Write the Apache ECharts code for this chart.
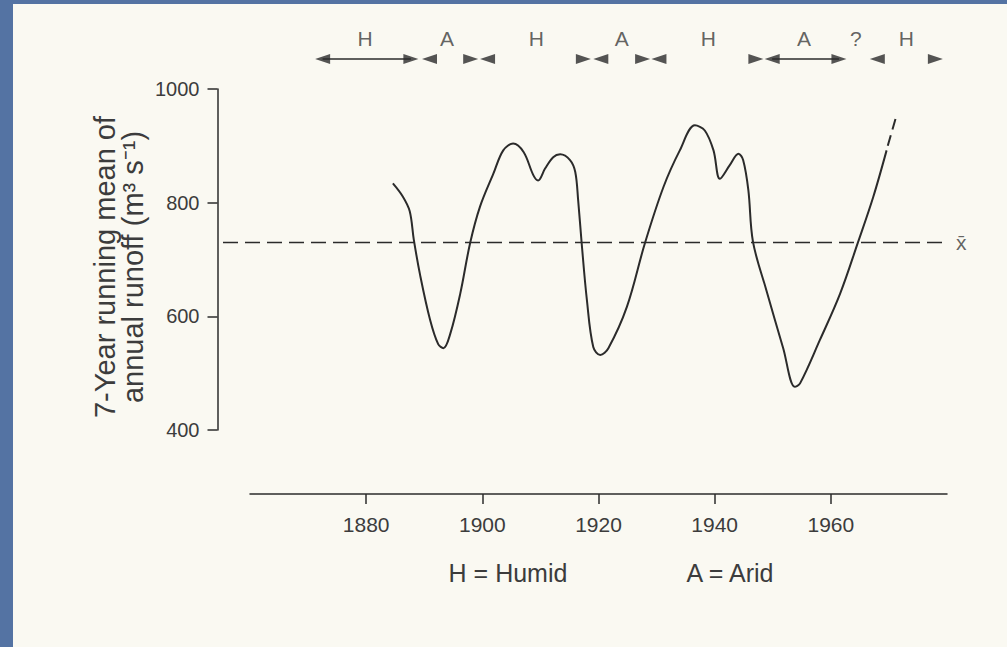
<!DOCTYPE html>
<html>
<head>
<meta charset="utf-8">
<script src="https://cdn.jsdelivr.net/npm/echarts@6/dist/echarts.min.js"></script>
<style>
  html, body { margin: 0; padding: 0; width: 1007px; height: 647px; overflow: hidden; background: #5473a3; }
  #paper { position: absolute; left: 13px; top: 4px; right: 0; bottom: 0; background: #faf9f2; }
  #chart { position: absolute; left: 0; top: 0; width: 1007px; height: 647px; }
</style>
</head>
<body>
<div id="paper"></div>
<div id="chart"></div>
<script>
// ---- Data ----
const years = [1884.6,1886.3,1887.5,1888.2,1889.3,1891.0,1892.4,1893.3,1894.5,1896.2,1897.9,1899.6,1901.9,1903.6,1905.3,1907.1,1908.8,1909.6,1910.8,1912.2,1913.4,1915.1,1916.0,1916.5,1917.1,1918.0,1919.1,1920.3,1921.7,1924.9,1928.0,1931.2,1934.0,1936.6,1938.3,1939.8,1940.9,1942.6,1944.1,1944.9,1945.8,1946.6,1948.9,1951.8,1953.8,1954.7,1958.1,1961.6,1964.7,1967.3,1969.6];
const runoff = [834,811,785,735,672,594,551,544,570,640,729,793,851,892,904,889,848,839,860,880,885,875,854,804,729,629,546,532,544,617,729,828,892,936,927,892,842,866,886,875,822,731,646,544,476,482,558,640,731,810,892];
const extensionYears = [1969.8, 1971.4];
const extensionRunoff = [900, 957];
const meanRunoff = 730;
const meanSpanYears = [1855.44, 1980];
const meanLabel = 'x\u0304';

const xTicks = { min: 1860, max: 1980, interval: 20 };
const yTicks = { min: 400, max: 1000, interval: 200 };
const yAxisTitle = '7-Year running mean of\nannual runoff (m\u00B3 s\u207B\u00B9)';
const legendTexts = ['H = Humid', 'A = Arid'];

const regimeLabels = ['H','A','H','A','H','A','?','H'];
const regimeLabelYears = [1879.8,1893.9,1909.3,1924.0,1938.9,1955.4,1964.3,1973.0];
const leftHeadYears = [1872.5,1890.9,1900.9,1920.4,1930.4,1949.9,1968.0];
const rightHeadYears = [1887.7,1898.0,1917.4,1927.6,1947.1,1961.4,1978.0];
const shaftHumid = [1872.5, 1887.7];
const shaftArid = [1949.9, 1961.4];

// ---- Build chart ----
const ink = '#2b2b2b';
const textInk = '#3c3c3c';
const font = '"Liberation Sans", Arial, sans-serif';

const chart = echarts.init(document.getElementById('chart'), null, { renderer: 'svg' });

const curve = years.map((y, i) => [y, runoff[i]]);
const ext = extensionYears.map((y, i) => [y, extensionRunoff[i]]);
const meanLine = meanSpanYears.map(y => [y, meanRunoff]);

const option = {
  backgroundColor: 'transparent',
  animation: false,
  grid: [
    { left: 250, right: 60, top: 89, bottom: 217 },
    { left: 250, right: 60, top: 38, height: 21 },
    // same vertical scale as the main plot; starts left of it so the mean line reaches the y axis
    { left: 223, right: 60, top: 89, bottom: 217 }
  ],
  xAxis: [
    {
      gridIndex: 0, type: 'value', min: xTicks.min, max: xTicks.max, interval: xTicks.interval,
      offset: 64,
      axisLine: { show: true, lineStyle: { color: ink, width: 1.5 } },
      axisTick: { show: true, length: 10, lineStyle: { color: ink, width: 1.5 } },
      axisLabel: { showMinLabel: false, showMaxLabel: false, margin: 20, color: textInk, fontSize: 21, fontFamily: font, formatter: v => String(v) },
      splitLine: { show: false }
    },
    { gridIndex: 1, type: 'value', min: xTicks.min, max: xTicks.max, show: false },
    { gridIndex: 2, type: 'value', min: meanSpanYears[0], max: meanSpanYears[1], show: false }
  ],
  yAxis: [
    {
      gridIndex: 0, type: 'value', min: yTicks.min, max: yTicks.max, interval: yTicks.interval,
      offset: 32.5,
      axisLine: { show: true, lineStyle: { color: ink, width: 1.5 } },
      axisTick: { show: true, length: 10, lineStyle: { color: ink, width: 1.5 } },
      axisLabel: { margin: 18, color: textInk, fontSize: 20, fontFamily: font, formatter: v => String(v) },
      splitLine: { show: false }
    },
    { gridIndex: 1, type: 'value', min: 0, max: 1, show: false },
    { gridIndex: 2, type: 'value', min: yTicks.min, max: yTicks.max, show: false }
  ],
  graphic: [
    {
      type: 'text', x: 119, y: 267, rotation: Math.PI / 2,
      style: { text: yAxisTitle, fill: textInk, font: '29px ' + font, align: 'center', verticalAlign: 'middle', lineHeight: 28 }
    },
    {
      type: 'text', x: 508, y: 573,
      style: { text: legendTexts[0], fill: textInk, font: '25px ' + font, align: 'center', verticalAlign: 'middle' }
    },
    {
      type: 'text', x: 730, y: 573,
      style: { text: legendTexts[1], fill: textInk, font: '25px ' + font, align: 'center', verticalAlign: 'middle' }
    }
  ],
  series: [
    {
      type: 'line', xAxisIndex: 2, yAxisIndex: 2, data: meanLine,
      showSymbol: false, symbol: 'none', silent: true,
      lineStyle: { color: ink, width: 1.5, type: [15, 7] }
    },
    {
      type: 'scatter', xAxisIndex: 2, yAxisIndex: 2, clip: false, silent: true,
      data: [[meanSpanYears[1], meanRunoff]], symbolSize: 0,
      label: { show: true, position: 'right', distance: 9, formatter: meanLabel, color: textInk, fontSize: 21, fontFamily: font }
    },
    {
      type: 'line', xAxisIndex: 0, yAxisIndex: 0, data: curve, smooth: 0.35,
      showSymbol: false, symbol: 'none', clip: false,
      lineStyle: { color: ink, width: 2 }
    },
    {
      type: 'line', xAxisIndex: 0, yAxisIndex: 0, data: ext, clip: false,
      showSymbol: false, symbol: 'none',
      lineStyle: { color: ink, width: 2, type: [11, 6] }
    },
    {
      type: 'line', xAxisIndex: 1, yAxisIndex: 1, data: shaftHumid.map(y => [y, 0]),
      showSymbol: false, symbol: 'none', clip: false,
      lineStyle: { color: ink, width: 1.5 }
    },
    {
      type: 'line', xAxisIndex: 1, yAxisIndex: 1, data: shaftArid.map(y => [y, 0]),
      showSymbol: false, symbol: 'none', clip: false,
      lineStyle: { color: ink, width: 1.5 }
    },
    {
      type: 'scatter', xAxisIndex: 1, yAxisIndex: 1, clip: false,
      data: leftHeadYears.map(y => [y, 0]),
      symbol: 'triangle', symbolSize: [10, 15], symbolRotate: 90,
      itemStyle: { color: ink }
    },
    {
      type: 'scatter', xAxisIndex: 1, yAxisIndex: 1, clip: false,
      data: rightHeadYears.map(y => [y, 0]),
      symbol: 'triangle', symbolSize: [10, 15], symbolRotate: -90,
      itemStyle: { color: ink }
    },
    {
      type: 'scatter', xAxisIndex: 1, yAxisIndex: 1, clip: false,
      data: regimeLabelYears.map((y, i) => [y, 1, regimeLabels[i]]),
      symbolSize: 0,
      label: { show: true, position: 'inside', formatter: p => p.value[2], color: textInk, fontSize: 21, fontFamily: font }
    }
  ]
};
chart.setOption(option);
</script>
</body>
</html>
